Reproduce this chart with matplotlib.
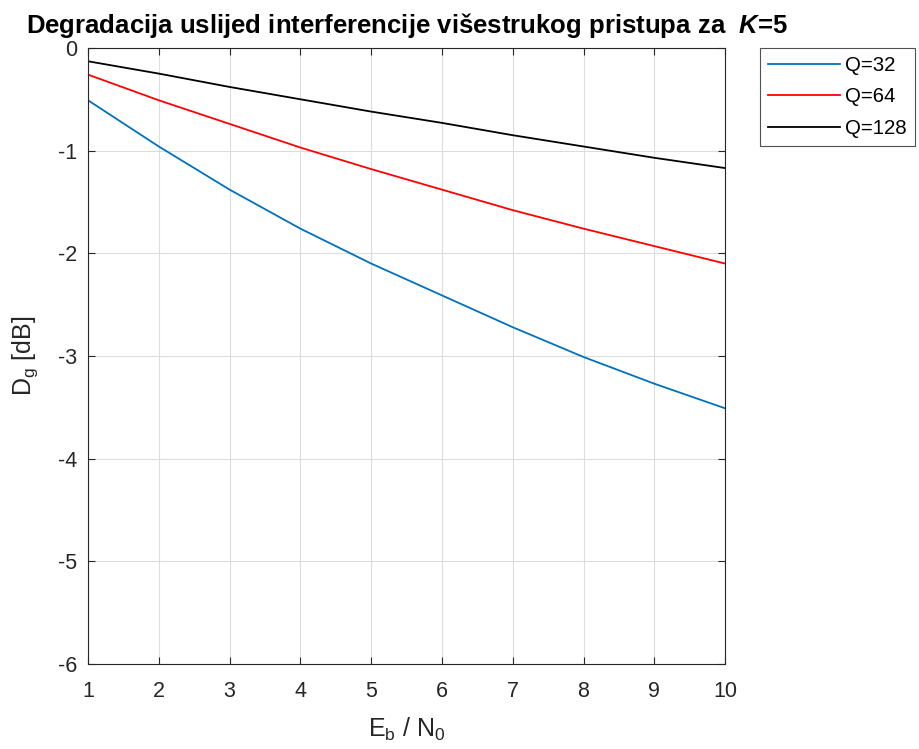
import numpy as np
import matplotlib
matplotlib.use("Agg")
import matplotlib.pyplot as plt

plt.rcParams['font.family'] = ['Liberation Sans', 'DejaVu Sans']
plt.rcParams['mathtext.fontset'] = 'custom'
plt.rcParams['mathtext.rm'] = 'Liberation Sans'
plt.rcParams['mathtext.it'] = 'Liberation Sans:italic'
plt.rcParams['mathtext.bf'] = 'Liberation Sans:bold'
plt.rcParams['mathtext.bfit'] = 'Liberation Sans:italic:bold'
plt.rcParams['axes.unicode_minus'] = False

# data (Eb/N0 vs degradation in dB)
ebn0 = [1, 2, 3, 4, 5, 6, 7, 8, 9, 10]
dg_q32 = [-0.51, -0.96, -1.38, -1.76, -2.10, -2.41, -2.72, -3.01, -3.27, -3.51]
dg_q64 = [-0.26, -0.51, -0.74, -0.97, -1.18, -1.38, -1.58, -1.76, -1.93, -2.10]
dg_q128 = [-0.13, -0.25, -0.38, -0.50, -0.62, -0.73, -0.85, -0.96, -1.07, -1.17]
labels = ['Q=32', 'Q=64', 'Q=128']

fig = plt.figure(figsize=(9.19, 7.49), dpi=100)
ax = fig.add_axes([0.0958, 0.1135, 0.6932, 0.8225])

ax.plot(ebn0, dg_q32, color='#0072BD', lw=1.3, label=labels[0])
ax.plot(ebn0, dg_q64, color='#FF0000', lw=1.3, label=labels[1])
ax.plot(ebn0, dg_q128, color='black', lw=1.3, label=labels[2])

ax.set_xlim(1, 10)
ax.set_ylim(-6, 0)
ax.set_xticks(range(1, 11))
ax.set_yticks(range(-6, 1))
ax.grid(True, color='#dcdcdc', lw=0.8)
ax.tick_params(direction='in', top=True, right=True, length=5, labelsize=15.5,
               colors='#262626')
ax.tick_params(axis='x', pad=12)
ax.tick_params(axis='y', pad=8)
for s in ax.spines.values():
    s.set_color('#262626')
    s.set_linewidth(0.8)

ax.set_xlabel(r'$\mathrm{E_b}$ / $\mathrm{N_0}$', fontsize=18, color='#262626', labelpad=10)
ax.set_ylabel(r'$\mathrm{D_g}$ [dB]', fontsize=18, color='#262626', labelpad=12.5)
ax.set_title(r'Degradacija uslijed interferencije višestrukog pristupa za  $\mathbfit{K}$=5',
             fontsize=18.5, fontweight='bold', pad=11)

leg = ax.legend(loc='upper left', bbox_to_anchor=(760 / 919, 1 - 48 / 749),
                bbox_transform=fig.transFigure, fontsize=14.7,
                frameon=True, fancybox=False, handlelength=3.5, borderpad=0.4,
                handletextpad=0.25, labelspacing=0.6, borderaxespad=0)
leg.get_frame().set_edgecolor('#262626')
leg.get_frame().set_linewidth(0.8)

fig.savefig('out.png', dpi=100)
